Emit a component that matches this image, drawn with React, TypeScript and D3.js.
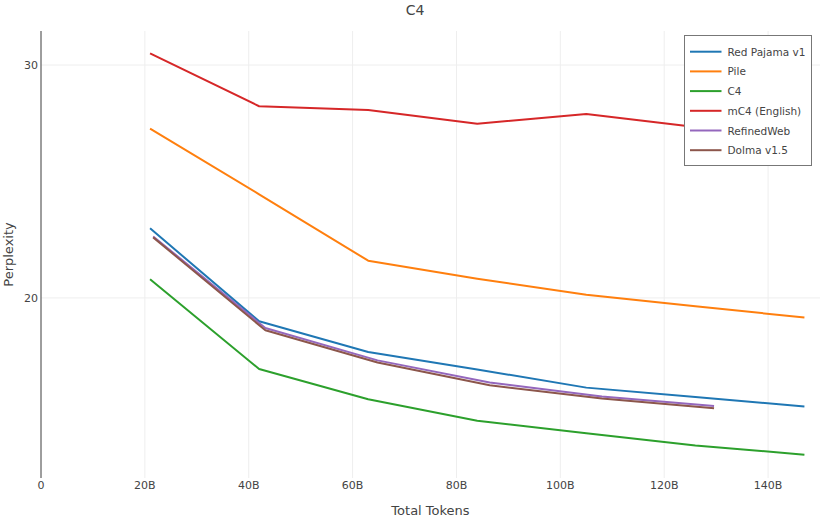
import * as d3 from "d3";

const WIDTH = 830;
const HEIGHT = 519;
const MARGIN = { top: 31, right: 10, bottom: 41, left: 41 };

// x positions (billions of tokens)
const xMain = [21, 42, 63, 84, 105, 126, 147];
const xShifted = [21.6, 43.2, 64.8, 86.4, 108, 129.6];

const redPajama = [22.99, 19.0, 17.68, 16.93, 16.15, 15.75, 15.34];
const pile = [27.27, 24.45, 21.6, 20.82, 20.14, 19.64, 19.16];
const c4 = [20.8, 16.95, 15.65, 14.73, 14.19, 13.67, 13.27];
const mc4 = [30.5, 28.23, 28.07, 27.48, 27.9, 27.34, 27.0];
const refinedWeb = [22.64, 18.71, 17.32, 16.37, 15.77, 15.36];
const dolma = [22.6, 18.61, 17.23, 16.25, 15.68, 15.26];

const xTicks = [0, 20, 40, 60, 80, 100, 120, 140];
const yTicks = [20, 30];

type Series = { name: string; color: string; xs: number[]; ys: number[] };

const series: Series[] = [
  { name: "Red Pajama v1", color: "#1f77b4", xs: xMain, ys: redPajama },
  { name: "Pile", color: "#ff7f0e", xs: xMain, ys: pile },
  { name: "C4", color: "#2ca02c", xs: xMain, ys: c4 },
  { name: "mC4 (English)", color: "#d62728", xs: xMain, ys: mc4 },
  { name: "RefinedWeb", color: "#9467bd", xs: xShifted, ys: refinedWeb },
  { name: "Dolma v1.5", color: "#8c564b", xs: xShifted, ys: dolma },
];

const FONT = "'DejaVu Sans', Verdana, sans-serif";

export default function App() {
  const x = d3
    .scaleLinear()
    .domain([0, 150])
    .range([MARGIN.left, WIDTH - MARGIN.right]);
  const y = d3
    .scaleLinear()
    .domain([12.27, 31.46])
    .range([HEIGHT - MARGIN.bottom, MARGIN.top]);

  const line = d3
    .line<[number, number]>()
    .x((d) => x(d[0]))
    .y((d) => y(d[1]));

  const plotBottom = HEIGHT - MARGIN.bottom;
  const plotRight = WIDTH - MARGIN.right;

  // legend box
  const lgX = 684.5;
  const lgY = 35.5;
  const lgW = 127;
  const lgH = 130;
  const rowH = 19.7;

  return (
    <svg
      width={WIDTH}
      height={HEIGHT}
      style={{ position: "absolute", left: 0, top: 0, background: "#fff" }}
      fontFamily={FONT}
    >
      {/* grid */}
      {xTicks.map((t) => (
        <line
          key={"gx" + t}
          x1={x(t)}
          x2={x(t)}
          y1={MARGIN.top}
          y2={plotBottom}
          stroke="#eee"
          strokeWidth={1}
        />
      ))}
      {yTicks.map((t) => (
        <line
          key={"gy" + t}
          x1={MARGIN.left}
          x2={plotRight}
          y1={y(t)}
          y2={y(t)}
          stroke="#eee"
          strokeWidth={1}
        />
      ))}

      {/* y axis line */}
      <line
        x1={MARGIN.left}
        x2={MARGIN.left}
        y1={MARGIN.top}
        y2={plotBottom}
        stroke="#444"
        strokeWidth={1}
      />

      {/* ticks */}
      {xTicks.map((t) => (
        <text
          key={"tx" + t}
          x={x(t)}
          y={plotBottom + 11}
          textAnchor="middle"
          fontSize={11}
          fill="#444"
        >
          {t === 0 ? "0" : `${t}B`}
        </text>
      ))}
      {yTicks.map((t) => (
        <text
          key={"ty" + t}
          x={MARGIN.left - 3}
          y={y(t) + 4}
          textAnchor="end"
          fontSize={11}
          fill="#444"
        >
          {t}
        </text>
      ))}

      {/* lines */}
      {series.map((s) => (
        <path
          key={s.name}
          d={line(s.xs.map((v, i) => [v, s.ys[i]] as [number, number])) || ""}
          fill="none"
          stroke={s.color}
          strokeWidth={2}
          strokeLinejoin="round"
        />
      ))}

      {/* titles */}
      <text x={415} y={15} textAnchor="middle" fontSize={14} fill="#444">
        C4
      </text>
      <text
        x={(MARGIN.left + plotRight) / 2}
        y={515}
        textAnchor="middle"
        fontSize={13}
        fill="#444"
      >
        Total Tokens
      </text>
      <text
        transform={`translate(13, ${(MARGIN.top + plotBottom) / 2}) rotate(-90)`}
        textAnchor="middle"
        fontSize={13}
        fill="#444"
      >
        Perplexity
      </text>

      {/* legend */}
      <rect
        x={lgX}
        y={lgY}
        width={lgW}
        height={lgH}
        fill="#fff"
        stroke="#777"
        strokeWidth={1}
      />
      {series.map((s, i) => {
        const cy = lgY + 16.2 + i * rowH;
        return (
          <g key={"lg" + s.name}>
            <line
              x1={lgX + 5.5}
              x2={lgX + 37}
              y1={cy}
              y2={cy}
              stroke={s.color}
              strokeWidth={2}
            />
            <text x={lgX + 43} y={cy + 4} fontSize={10.5} fill="#444">
              {s.name}
            </text>
          </g>
        );
      })}
    </svg>
  );
}
